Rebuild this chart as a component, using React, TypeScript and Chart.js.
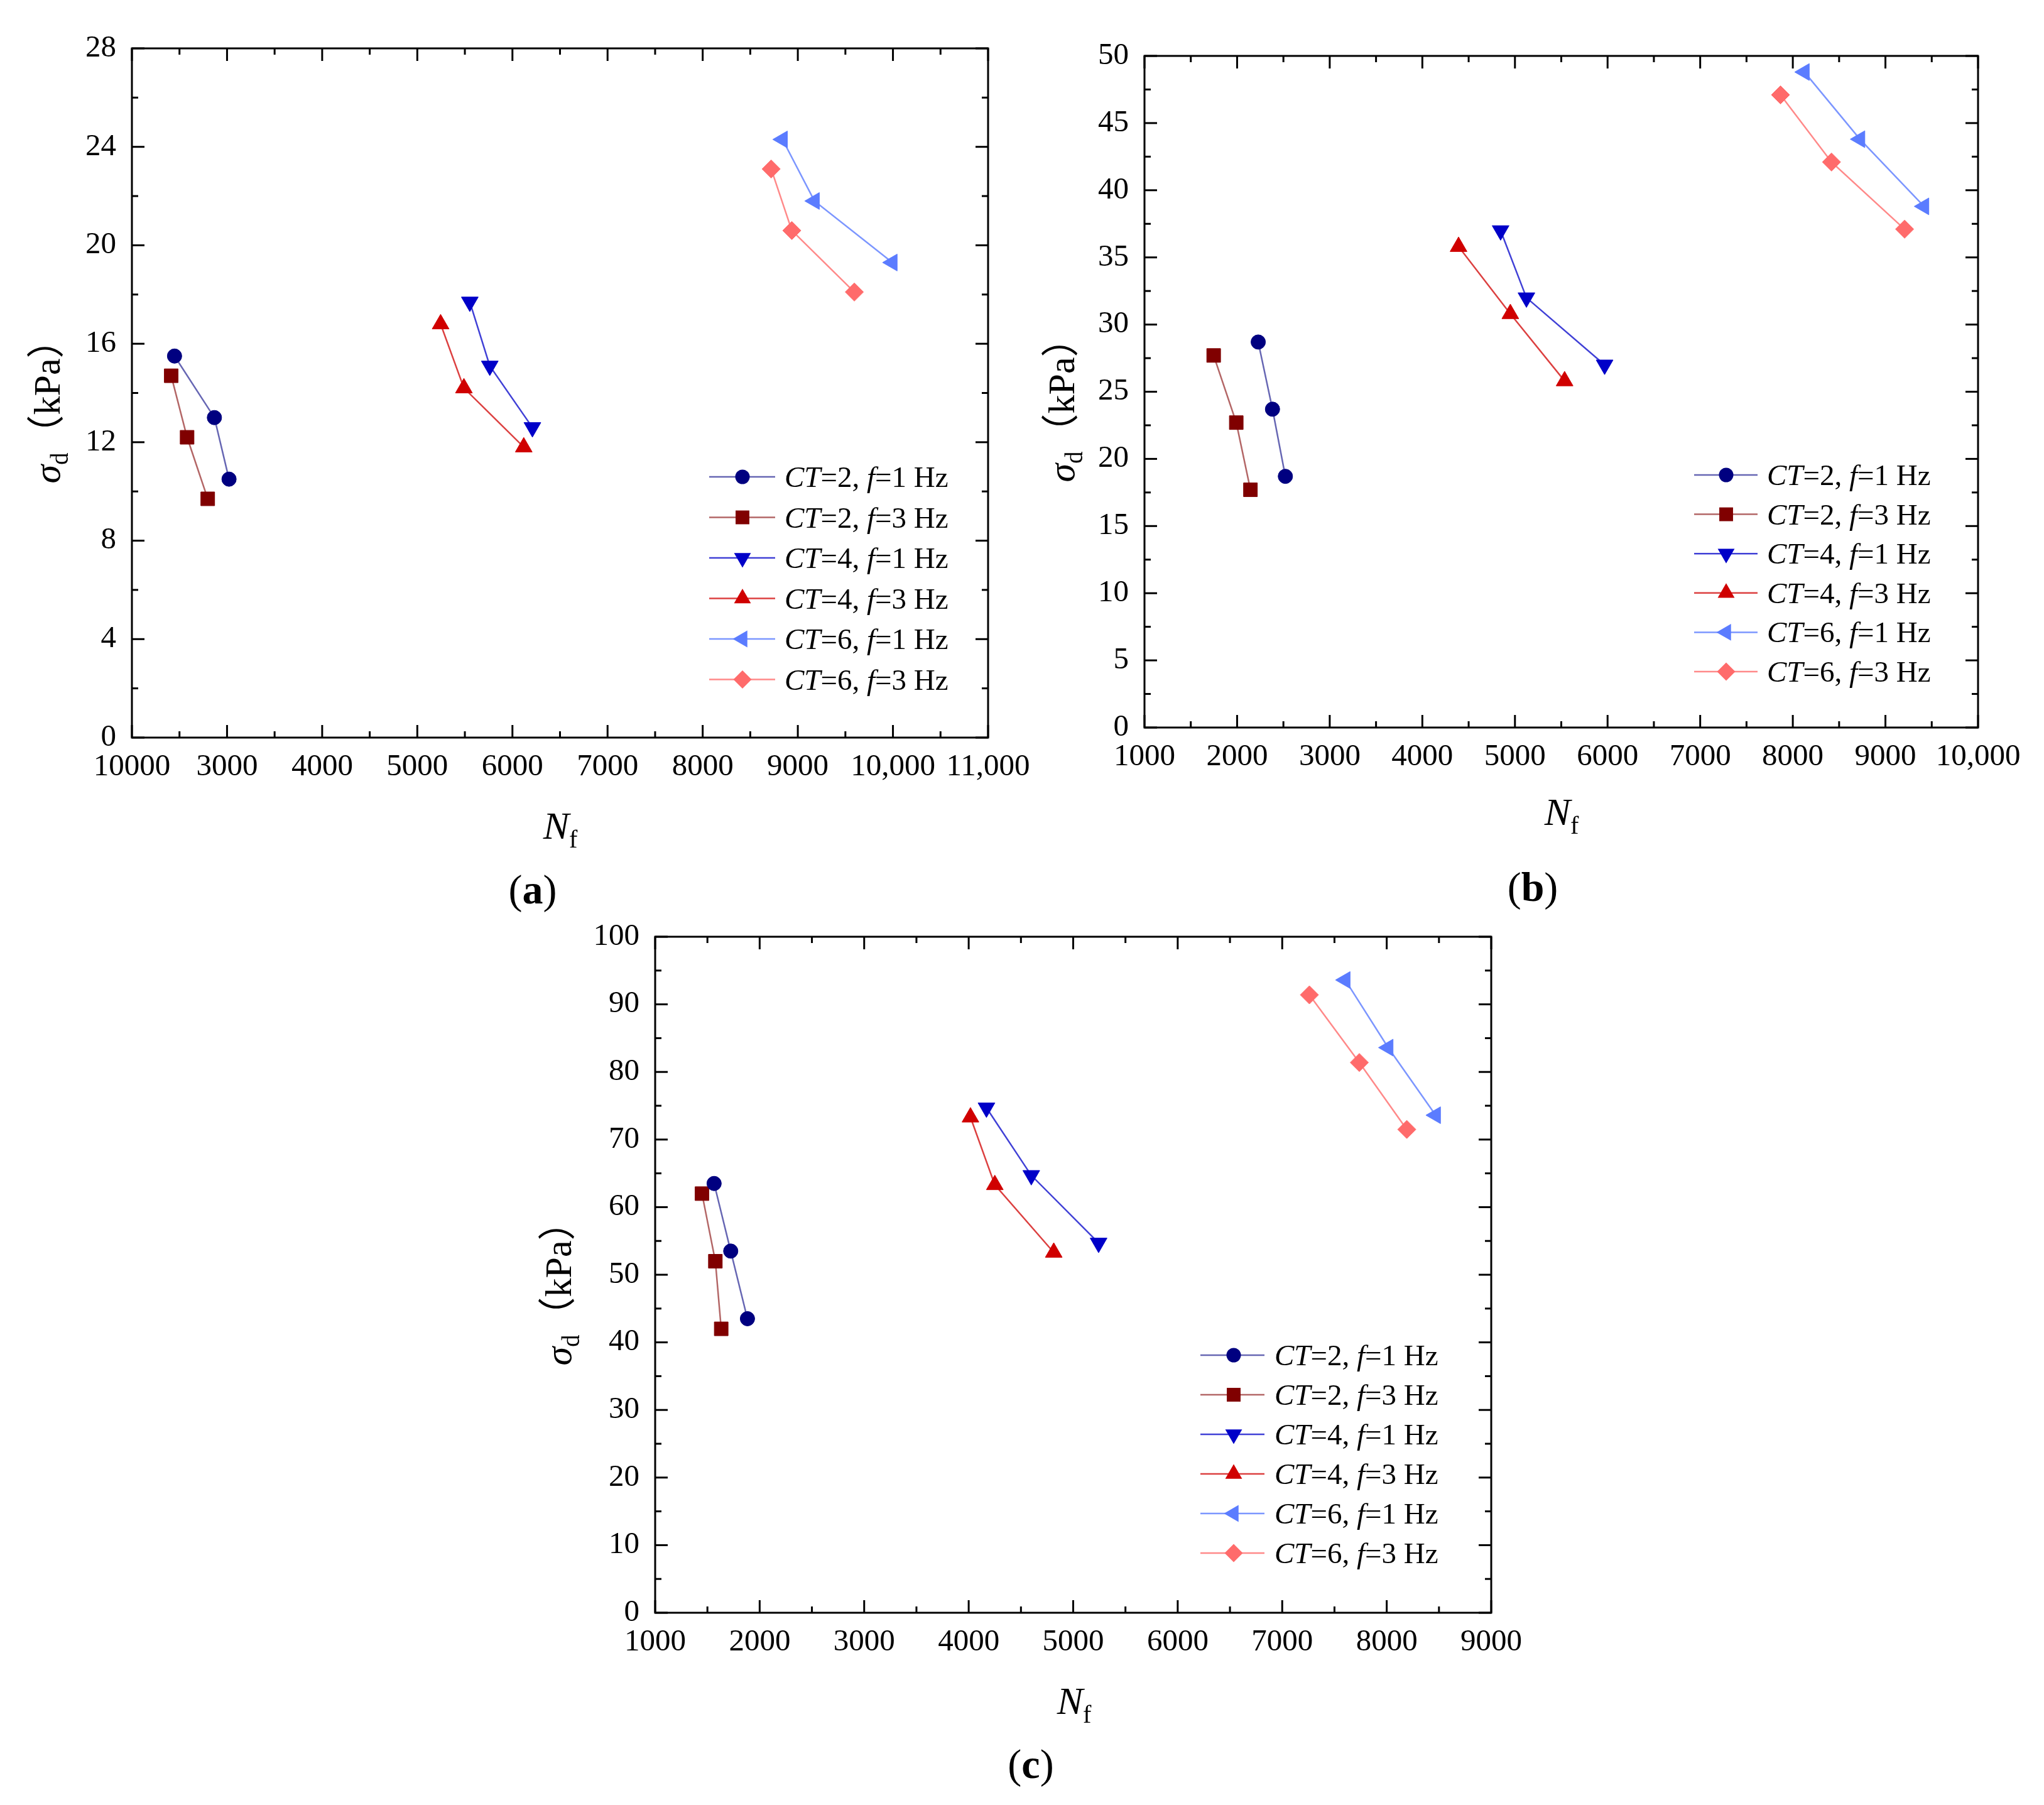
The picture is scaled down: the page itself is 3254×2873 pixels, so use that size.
import React, { useEffect, useRef } from 'react';
import { Chart, registerables } from 'chart.js';

Chart.register(...registerables);

const FONT = "'Liberation Serif', 'Times New Roman', 'Noto Sans CJK SC', serif";

// legend: CT and loading frequency of each series
const ctValues = [2, 2, 4, 4, 6, 6];
const freqValues = [1, 3, 1, 3, 1, 3];

// panel (a)
const nfA = [
  [2448, 2867, 3021],
  [2413, 2580, 2797],
  [5552, 5762, 6210],
  [5245, 5490, 6119],
  [8839, 9175, 9993],
  [8720, 8937, 9594],
];
const sigmaA = [
  [15.5, 13.0, 10.5],
  [14.7, 12.2, 9.7],
  [17.7, 15.1, 12.6],
  [16.8, 14.2, 11.8],
  [24.3, 21.8, 19.3],
  [23.1, 20.6, 18.1],
];
const xTicksA = ['10000', '3000', '4000', '5000', '6000', '7000', '8000', '9000', '10,000', '11,000'];

// panel (b)
const nfB = [
  [2228, 2382, 2521],
  [1747, 1991, 2144],
  [4845, 5124, 5968],
  [4391, 4950, 5536],
  [8125, 8725, 9416],
  [7867, 8418, 9207],
];
const sigmaB = [
  [28.7, 23.7, 18.7],
  [27.7, 22.7, 17.7],
  [37.0, 32.0, 27.0],
  [35.8, 30.8, 25.8],
  [48.8, 43.8, 38.8],
  [47.1, 42.1, 37.1],
];
const xTicksB = ['1000', '2000', '3000', '4000', '5000', '6000', '7000', '8000', '9000', '10,000'];

// panel (c)
const nfC = [
  [1564, 1723, 1883],
  [1448, 1576, 1632],
  [4170, 4599, 5243],
  [4017, 4250, 4814],
  [7603, 8014, 8468],
  [7260, 7738, 8192],
];
const sigmaC = [
  [63.5, 53.5, 43.5],
  [62.0, 52.0, 42.0],
  [74.7, 64.7, 54.7],
  [73.3, 63.3, 53.3],
  [93.6, 83.6, 73.6],
  [91.4, 81.4, 71.5],
];
const xTicksC = ['1000', '2000', '3000', '4000', '5000', '6000', '7000', '8000', '9000'];

const seriesStyle = [
  { marker: '#000080', line: 'rgba(0,0,128,0.6)', shape: 'circle', rot: 0, r: 11.5 },
  { marker: '#800000', line: 'rgba(128,0,0,0.6)', shape: 'rect', rot: 0, r: 15.5 },
  { marker: '#0000c8', line: 'rgba(0,0,200,0.75)', shape: 'triangle', rot: 180, r: 15.5 },
  { marker: '#d00000', line: 'rgba(208,0,0,0.75)', shape: 'triangle', rot: 0, r: 15.5 },
  { marker: '#5b7cff', line: 'rgba(91,124,255,0.8)', shape: 'triangle', rot: 270, r: 15.5 },
  { marker: '#ff6b6b', line: 'rgba(255,107,107,0.8)', shape: 'rectRot', rot: 0, r: 14.5 },
];

type Seg = { t: string; it?: boolean; sub?: boolean };

const segFont = (s: Seg, size: number) =>
  `${s.it ? 'italic ' : ''}${s.sub ? Math.round(size * 0.65) : size}px ${FONT}`;

function richWidth(ctx: CanvasRenderingContext2D, segs: Seg[], size: number) {
  let w = 0;
  for (const s of segs) {
    ctx.font = segFont(s, size);
    w += ctx.measureText(s.t).width;
  }
  return w;
}

function drawRich(ctx: CanvasRenderingContext2D, segs: Seg[], x: number, y: number, size: number) {
  let cx = x;
  ctx.textAlign = 'left';
  ctx.textBaseline = 'alphabetic';
  for (const s of segs) {
    ctx.font = segFont(s, size);
    ctx.fillText(s.t, cx, s.sub ? y + size * 0.22 : y);
    cx += ctx.measureText(s.t).width;
  }
}

function drawMarker(ctx: CanvasRenderingContext2D, st: any, x: number, y: number) {
  const r = st.r;
  let a = (st.rot * Math.PI) / 180;
  ctx.beginPath();
  if (st.shape === 'circle') {
    ctx.arc(x, y, r, 0, Math.PI * 2);
  } else if (st.shape === 'rect') {
    const s = Math.SQRT1_2 * r;
    ctx.rect(x - s, y - s, 2 * s, 2 * s);
  } else if (st.shape === 'triangle') {
    ctx.moveTo(x + Math.sin(a) * r, y - Math.cos(a) * r);
    a += (2 * Math.PI) / 3;
    ctx.lineTo(x + Math.sin(a) * r, y - Math.cos(a) * r);
    a += (2 * Math.PI) / 3;
    ctx.lineTo(x + Math.sin(a) * r, y - Math.cos(a) * r);
    ctx.closePath();
  } else {
    ctx.moveTo(x, y - r);
    ctx.lineTo(x + r, y);
    ctx.lineTo(x, y + r);
    ctx.lineTo(x - r, y);
    ctx.closePath();
  }
  ctx.fillStyle = st.marker;
  ctx.fill();
}

// frame, inward ticks on four sides, axis titles and legend
const decorPlugin = {
  id: 'decor',
  afterDraw(chart: any, _args: any, o: any) {
    const { ctx, chartArea: ca, scales } = chart;
    const sx = scales.x;
    const sy = scales.y;
    ctx.save();
    ctx.strokeStyle = '#000';
    ctx.lineWidth = 3;
    const seg = (x0: number, y0: number, x1: number, y1: number) => {
      ctx.beginPath();
      ctx.moveTo(x0, y0);
      ctx.lineTo(x1, y1);
      ctx.stroke();
    };
    const nx = Math.round((o.xMax - o.xMin) / o.xMinor);
    const rx = Math.round(o.xStep / o.xMinor);
    for (let i = 0; i <= nx; i++) {
      const p = sx.getPixelForValue(o.xMin + i * o.xMinor);
      const len = i % rx === 0 ? 20 : 10;
      seg(p, ca.bottom, p, ca.bottom - len);
      seg(p, ca.top, p, ca.top + len);
    }
    const ny = Math.round((o.yMax - o.yMin) / o.yMinor);
    const ry = Math.round(o.yStep / o.yMinor);
    for (let i = 0; i <= ny; i++) {
      const p = sy.getPixelForValue(o.yMin + i * o.yMinor);
      const len = i % ry === 0 ? 20 : 10;
      seg(ca.left, p, ca.left + len, p);
      seg(ca.right, p, ca.right - len, p);
    }
    ctx.strokeRect(ca.left, ca.top, ca.right - ca.left, ca.bottom - ca.top);

    ctx.fillStyle = '#000';
    // x title
    const xt: Seg[] = [{ t: 'N', it: true }, { t: 'f', sub: true }];
    const xw = richWidth(ctx, xt, 62);
    drawRich(ctx, xt, o.xTitleX - xw / 2, o.xTitleY, 62);
    // y title
    const yt: Seg[] = [{ t: 'σ', it: true }, { t: 'd', sub: true }, { t: '（kPa）' }];
    const yw = richWidth(ctx, yt, 60);
    ctx.save();
    ctx.translate(o.yTitleX, o.yTitleY);
    ctx.rotate(-Math.PI / 2);
    ctx.fillStyle = '#000';
    drawRich(ctx, yt, -yw / 2, 18, 60);
    ctx.restore();

    // legend
    const lg = o.legend;
    ctValues.forEach((ct, i) => {
      const st = seriesStyle[i];
      const y = lg.y0 + i * lg.dy;
      ctx.strokeStyle = st.line;
      ctx.lineWidth = 2.5;
      seg(lg.x0, y, lg.x1, y);
      drawMarker(ctx, st, lg.mx, y);
      ctx.fillStyle = '#000';
      drawRich(
        ctx,
        [{ t: 'CT', it: true }, { t: `=${ct}, ` }, { t: 'f', it: true }, { t: `=${freqValues[i]} Hz` }],
        lg.tx,
        y + 16,
        47,
      );
    });
    ctx.restore();
  },
};

interface PanelProps {
  left: number;
  top: number;
  width: number;
  height: number;
  padTop: number;
  padRight: number;
  yWidth: number;
  xHeight: number;
  xMin: number;
  xMax: number;
  xStep: number;
  xMinor: number;
  yMin: number;
  yMax: number;
  yStep: number;
  yMinor: number;
  xTicks: string[];
  nf: number[][];
  sigma: number[][];
  legend: { x0: number; x1: number; mx: number; tx: number; y0: number; dy: number };
  xTitleX: number;
  xTitleY: number;
  yTitleX: number;
  yTitleY: number;
}

const Panel: React.FC<PanelProps> = (p) => {
  const canvasRef = useRef<HTMLCanvasElement>(null);
  const chartRef = useRef<Chart | null>(null);

  useEffect(() => {
    if (!canvasRef.current) return;
    if (chartRef.current) chartRef.current.destroy();
    const ctx = canvasRef.current.getContext('2d');
    if (!ctx) return;

    chartRef.current = new Chart(ctx, {
      type: 'scatter',
      data: {
        datasets: p.nf.map((xs, i) => {
          const st = seriesStyle[i];
          return {
            label: `CT=${ctValues[i]}, f=${freqValues[i]} Hz`,
            data: xs.map((x, j) => ({ x, y: p.sigma[i][j] })),
            showLine: true,
            borderColor: st.line,
            borderWidth: 2.5,
            backgroundColor: st.marker,
            pointBackgroundColor: st.marker,
            pointBorderColor: st.marker,
            pointBorderWidth: 1,
            pointStyle: st.shape as any,
            pointRotation: st.rot,
            pointRadius: st.r,
            tension: 0,
          };
        }),
      },
      options: {
        responsive: true,
        maintainAspectRatio: false,
        animation: false,
        events: [],
        layout: { padding: { top: p.padTop, right: p.padRight, left: 0, bottom: 0 } },
        plugins: {
          legend: { display: false },
          tooltip: { enabled: false },
          decor: {
            xMin: p.xMin,
            xMax: p.xMax,
            xStep: p.xStep,
            xMinor: p.xMinor,
            yMin: p.yMin,
            yMax: p.yMax,
            yStep: p.yStep,
            yMinor: p.yMinor,
            legend: p.legend,
            xTitleX: p.xTitleX,
            xTitleY: p.xTitleY,
            yTitleX: p.yTitleX,
            yTitleY: p.yTitleY,
          },
        } as any,
        scales: {
          x: {
            type: 'linear',
            min: p.xMin,
            max: p.xMax,
            grid: { display: false, drawTicks: false },
            border: { display: false },
            ticks: {
              stepSize: p.xStep,
              autoSkip: false,
              maxRotation: 0,
              minRotation: 0,
              padding: 18,
              color: '#000',
              font: { family: FONT, size: 49 },
              callback: (v: any) => p.xTicks[Math.round((Number(v) - p.xMin) / p.xStep)] ?? '',
            },
            afterFit: (s: any) => {
              s.height = p.xHeight;
            },
          },
          y: {
            type: 'linear',
            min: p.yMin,
            max: p.yMax,
            grid: { display: false, drawTicks: false },
            border: { display: false },
            ticks: {
              stepSize: p.yStep,
              autoSkip: false,
              padding: 25,
              color: '#000',
              font: { family: FONT, size: 49 },
            },
            afterFit: (s: any) => {
              s.width = p.yWidth;
            },
          },
        },
      },
      plugins: [decorPlugin as any],
    });

    return () => {
      if (chartRef.current) {
        chartRef.current.destroy();
        chartRef.current = null;
      }
    };
  }, []);

  return (
    <div style={{ position: 'absolute', left: p.left, top: p.top, width: p.width, height: p.height }}>
      <canvas ref={canvasRef}></canvas>
    </div>
  );
};

const PanelLabel: React.FC<{ x: number; y: number; letter: string }> = ({ x, y, letter }) => (
  <div
    style={{
      position: 'absolute',
      left: x - 100,
      top: y - 45,
      width: 200,
      height: 90,
      lineHeight: '90px',
      textAlign: 'center',
      fontFamily: FONT,
      fontSize: 66,
      color: '#000',
    }}
  >
    (<b>{letter}</b>)
  </div>
);

export default function App() {
  return (
    <div style={{ position: 'absolute', left: 0, top: 0, width: 3254, height: 2873, background: '#fff', overflow: 'hidden' }}>
      <Panel
        left={0}
        top={0}
        width={1700}
        height={1420}
        padTop={77}
        padRight={127}
        yWidth={210}
        xHeight={246}
        xMin={2000}
        xMax={11000}
        xStep={1000}
        xMinor={500}
        yMin={0}
        yMax={28}
        yStep={4}
        yMinor={2}
        xTicks={xTicksA}
        nf={nfA}
        sigma={sigmaA}
        legend={{ x0: 1129, x1: 1234, mx: 1182, tx: 1249, y0: 759, dy: 64.5 }}
        xTitleX={892}
        xTitleY={1335}
        yTitleX={77}
        yTitleY={640}
      />
      <Panel
        left={1640}
        top={0}
        width={1614}
        height={1420}
        padTop={89}
        padRight={105}
        yWidth={182}
        xHeight={262}
        xMin={1000}
        xMax={10000}
        xStep={1000}
        xMinor={500}
        yMin={0}
        yMax={50}
        yStep={5}
        yMinor={2.5}
        xTicks={xTicksB}
        nf={nfB}
        sigma={sigmaB}
        legend={{ x0: 1057, x1: 1158, mx: 1108, tx: 1173, y0: 756, dy: 62.6 }}
        xTitleX={846}
        xTitleY={1313}
        yTitleX={52}
        yTitleY={638}
      />
      <Panel
        left={850}
        top={1430}
        width={1650}
        height={1443}
        padTop={61}
        padRight={126}
        yWidth={193}
        xHeight={306}
        xMin={1000}
        xMax={9000}
        xStep={1000}
        xMinor={500}
        yMin={0}
        yMax={100}
        yStep={10}
        yMinor={5}
        xTicks={xTicksC}
        nf={nfC}
        sigma={sigmaC}
        legend={{ x0: 1061, x1: 1163, mx: 1114, tx: 1179, y0: 727, dy: 63 }}
        xTitleX={860}
        xTitleY={1298}
        yTitleX={41}
        yTitleY={614}
      />
      <PanelLabel x={848} y={1416} letter="a" />
      <PanelLabel x={2440} y={1412} letter="b" />
      <PanelLabel x={1641} y={2808} letter="c" />
    </div>
  );
}
